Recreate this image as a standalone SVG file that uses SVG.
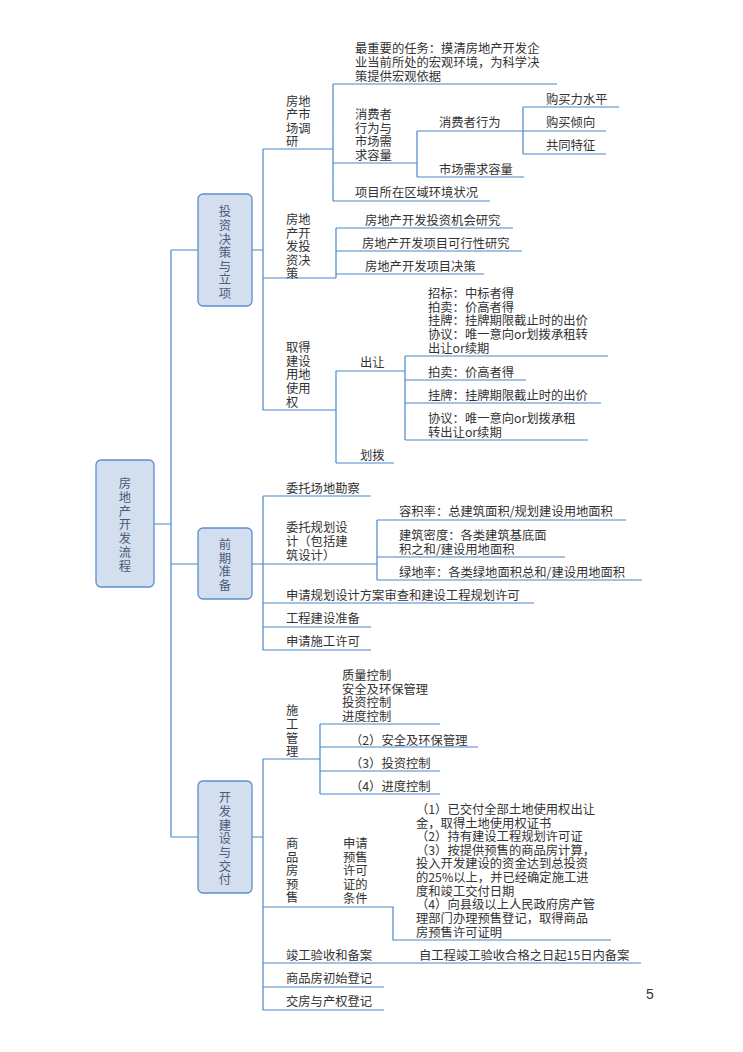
<svg xmlns="http://www.w3.org/2000/svg" width="743" height="1052" viewBox="0 0 743 1052">
<style>
text{font-family:"Noto Sans CJK SC","Liberation Sans",sans-serif;font-size:12.3px;fill:#333;dominant-baseline:central}
.b text{fill:#4a5a78;text-anchor:middle}
.b rect{fill:#d3dfee;stroke:#5b8fd0;stroke-width:1.3}
#c path{fill:none;stroke:#4a86c8;stroke-width:1.2}
</style>
<rect width="743" height="1052" fill="#fff"/>
<g id="c">
<path d="M154 524H171M171 250V837M171 250H198M171 564H198M171 837H198"/>
<path d="M252 250H263M263 149V410M263 149H333M333 84V201M333 84H557M333 163H417M417 131V177M417 131H523M523 107V154M523 107H619M523 131H606M523 154H606M417 177H524M333 201H490"/>
<path d="M263 278H336M336 228V278M336 228H513M336 251H522M336 274H484"/>
<path d="M263 410H336M336 371V463M336 371H405M405 356V440M405 356H608M405 380H526M405 403H601M405 440H588M336 463H394"/>
<path d="M252 564H263M263 496V650M263 496H371M263 564H377M377 520V580M377 520H626M377 557H565M377 580H642M263 603H534M263 627H371M263 650H371"/>
<path d="M252 837H263M263 759V1010M263 759H320M320 724V794M320 724H440M320 747H478M320 771H440M320 794H440"/>
<path d="M263 907H393V940H611M263 963H641M263 987H384M263 1010H384"/>
</g>
<g id="root" class="b"><rect x="96" y="460" width="58" height="127" rx="5"/>
<text x="125" y="483">房</text><text x="125" y="497">地</text><text x="125" y="511">产</text><text x="125" y="524">开</text><text x="125" y="538">发</text><text x="125" y="552">流</text><text x="125" y="566">程</text></g>
<g id="n1" class="b"><rect x="198" y="194" width="54" height="112" rx="5"/>
<text x="225" y="211">投</text><text x="225" y="225">资</text><text x="225" y="239">决</text><text x="225" y="252">策</text><text x="225" y="266">与</text><text x="225" y="279">立</text><text x="225" y="293">项</text></g>
<g id="n2" class="b"><rect x="198" y="528" width="54" height="71" rx="5"/>
<text x="225" y="544">前</text><text x="225" y="558">期</text><text x="225" y="571">准</text><text x="225" y="585">备</text></g>
<g id="n3" class="b"><rect x="198" y="781" width="54" height="112" rx="5"/>
<text x="225" y="797">开</text><text x="225" y="811">发</text><text x="225" y="825">建</text><text x="225" y="838">设</text><text x="225" y="852">与</text><text x="225" y="866">交</text><text x="225" y="879">付</text></g>
<g id="s1">
<text x="286" y="101">房地</text><text x="286" y="114">产市</text><text x="286" y="128">场调</text><text x="286" y="141">研</text>
<text x="355" y="48">最重要的任务：摸清房地产开发企</text><text x="355" y="62">业当前所处的宏观环境，为科学决</text><text x="355" y="76">策提供宏观依据</text>
<text x="355" y="114">消费者</text><text x="355" y="128">行为与</text><text x="355" y="141">市场需</text><text x="355" y="155">求容量</text>
<text x="439" y="122">消费者行为</text><text x="546" y="99">购买力水平</text><text x="546" y="122">购买倾向</text><text x="546" y="145">共同特征</text>
<text x="439" y="169">市场需求容量</text><text x="355" y="192">项目所在区域环境状况</text>
<text x="286" y="219">房地</text><text x="286" y="233">产开</text><text x="286" y="246">发投</text><text x="286" y="260">资决</text><text x="286" y="273">策</text>
<text x="365" y="220">房地产开发投资机会研究</text><text x="362" y="243">房地产开发项目可行性研究</text><text x="365" y="266">房地产开发项目决策</text>
<text x="286" y="347">取得</text><text x="286" y="361">建设</text><text x="286" y="374">用地</text><text x="286" y="388">使用</text><text x="286" y="402">权</text>
<text x="360" y="362">出让</text>
<text x="428" y="293">招标：中标者得</text><text x="428" y="307">拍卖：价高者得</text><text x="428" y="320">挂牌：挂牌期限截止时的出价</text><text x="428" y="334">协议：唯一意向or划拨承租转</text><text x="428" y="348">出让or续期</text>
<text x="428" y="372">拍卖：价高者得</text><text x="428" y="395">挂牌：挂牌期限截止时的出价</text>
<text x="428" y="418">协议：唯一意向or划拨承租</text><text x="428" y="432">转出让or续期</text>
<text x="360" y="455">划拨</text>
</g>
<g id="s2">
<text x="286" y="488">委托场地勘察</text>
<text x="286" y="527">委托规划设</text><text x="286" y="541">计（包括建</text><text x="286" y="555">筑设计）</text>
<text x="399" y="511">容积率：总建筑面积/规划建设用地面积</text>
<text x="399" y="535">建筑密度：各类建筑基底面</text><text x="399" y="549">积之和/建设用地面积</text>
<text x="399" y="572">绿地率：各类绿地面积总和/建设用地面积</text>
<text x="286" y="595">申请规划设计方案审查和建设工程规划许可</text>
<text x="286" y="618">工程建设准备</text><text x="286" y="641">申请施工许可</text>
</g>
<g id="s3">
<text x="286" y="710">施</text><text x="286" y="724">工</text><text x="286" y="738">管</text><text x="286" y="751">理</text>
<text x="342" y="675">质量控制</text><text x="342" y="689">安全及环保管理</text><text x="342" y="702">投资控制</text><text x="342" y="716">进度控制</text>
<text x="350" y="740">（2）安全及环保管理</text><text x="350" y="763">（3）投资控制</text><text x="350" y="786">（4）进度控制</text>
<text x="286" y="843">商</text><text x="286" y="857">品</text><text x="286" y="870">房</text><text x="286" y="884">预</text><text x="286" y="897">售</text>
<text x="343" y="843">申请</text><text x="343" y="857">预售</text><text x="343" y="870">许可</text><text x="343" y="884">证的</text><text x="343" y="898">条件</text>
<text x="416" y="809">（1）已交付全部土地使用权出让</text><text x="416" y="823">金，取得土地使用权证书</text><text x="416" y="836">（2）持有建设工程规划许可证</text><text x="416" y="850">（3）按提供预售的商品房计算，</text><text x="416" y="863">投入开发建设的资金达到总投资</text><text x="416" y="877">的25%以上，并已经确定施工进</text><text x="416" y="891">度和竣工交付日期</text><text x="416" y="904">（4）向县级以上人民政府房产管</text><text x="416" y="918">理部门办理预售登记，取得商品</text><text x="416" y="932">房预售许可证明</text>
<text x="286" y="955">竣工验收和备案</text><text x="419" y="955">自工程竣工验收合格之日起15日内备案</text>
<text x="286" y="978">商品房初始登记</text><text x="286" y="1001">交房与产权登记</text>
</g>
<text x="646" y="994" style="font-family:'Liberation Sans',sans-serif;font-size:14px">5</text>
</svg>
